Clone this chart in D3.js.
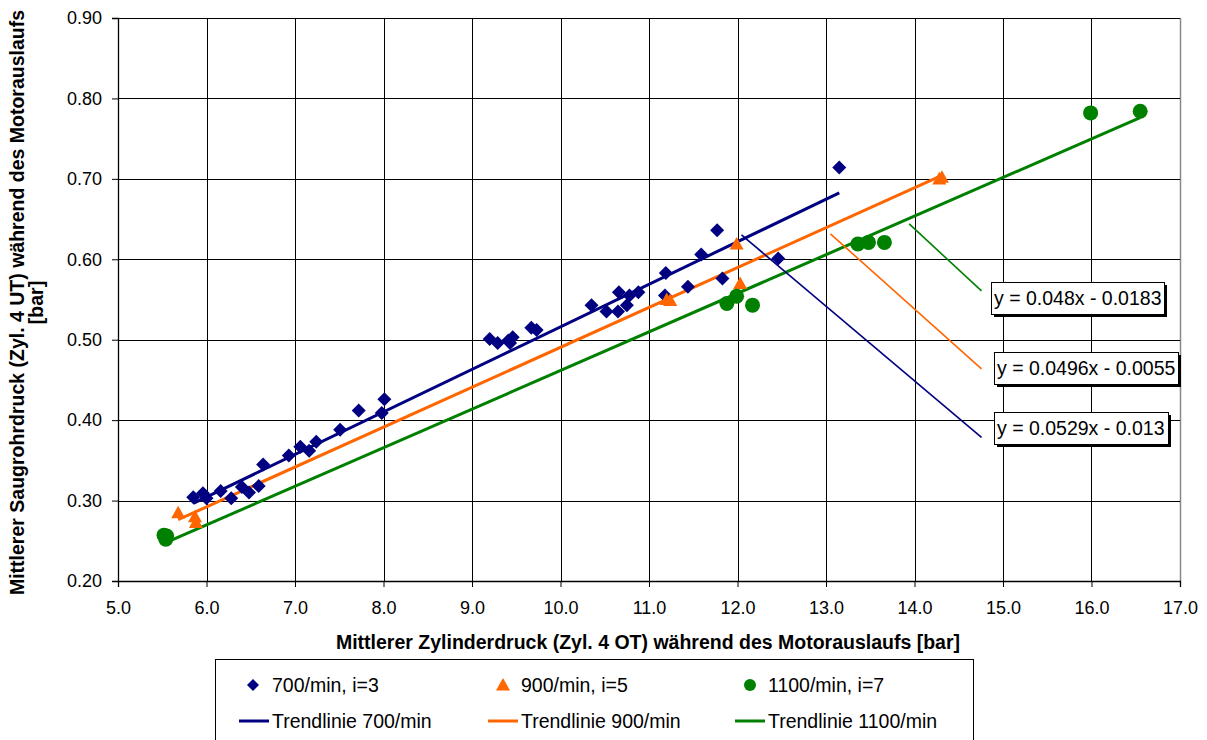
<!DOCTYPE html>
<html>
<head>
<meta charset="utf-8">
<script src="https://cdn.jsdelivr.net/npm/d3@7"></script>
<style>
  html, body { margin: 0; padding: 0; background: #fff; }
  svg { display: block; font-family: "Liberation Sans", Arial, sans-serif; }
</style>
</head>
<body>
<svg id="chart" width="1207" height="740"></svg>
<script>
// ---- data ----
const seriesNames = ["700/min, i=3", "900/min, i=5", "1100/min, i=7"];
const trendNames = ["Trendlinie 700/min", "Trendlinie 900/min", "Trendlinie 1100/min"];

const x700 = [5.85,5.96,6.00,6.16,6.28,6.40,6.48,6.59,6.64,6.93,7.06,7.16,7.24,7.51,7.72,7.98,8.01,
              9.20,9.29,9.41,9.43,9.46,9.67,9.73,10.35,10.52,10.65,10.66,10.75,10.78,10.88,11.18,11.19,
              11.44,11.59,11.77,11.83,12.46,13.15];
const y700 = [0.304,0.309,0.303,0.312,0.303,0.317,0.310,0.318,0.345,0.356,0.367,0.362,0.373,0.388,0.412,0.409,0.426,
              0.501,0.496,0.499,0.496,0.503,0.515,0.512,0.543,0.535,0.535,0.559,0.543,0.555,0.559,0.555,0.583,
              0.566,0.606,0.636,0.576,0.601,0.714];

const x900 = [5.68,5.87,5.88,11.20,11.24,11.99,12.03,14.28,14.31];
const y900 = [0.285,0.280,0.273,0.550,0.549,0.619,0.570,0.700,0.702];

const x1100 = [5.52,5.55,5.54,11.88,11.99,12.17,13.36,13.48,13.66,15.99,16.55];
const y1100 = [0.257,0.256,0.252,0.545,0.554,0.543,0.619,0.621,0.621,0.782,0.784];

const slopes = [0.0529, 0.0496, 0.048];
const intercepts = [-0.013, -0.0055, -0.0183];
const equationLabels = ["y = 0.0529x - 0.013", "y = 0.0496x - 0.0055", "y = 0.048x - 0.0183"];

// leader lines (data coords): [x1, y1, x2, y2]
const leaders = [
  [12.045, 0.6303, 14.757, 0.3787],
  [13.05, 0.6316, 14.757, 0.4637],
  [13.94, 0.644, 14.757, 0.5607]
];

const xTicks = [5,6,7,8,9,10,11,12,13,14,15,16,17];
const yTicks = [0.2,0.3,0.4,0.5,0.6,0.7,0.8,0.9];

const xTitle = "Mittlerer Zylinderdruck (Zyl. 4 OT) während des Motorauslaufs [bar]";
const yTitle1 = "Mittlerer Saugrohrdruck (Zyl. 4 UT) während des Motorauslaufs";
const yTitle2 = "[bar]";

// ---- styling/layout ----
const colors = ["#000080", "#FF6600", "#008000"];
const L = 118, R = 1180, T = 18, B = 581;

const svg = d3.select("#chart");
const x = d3.scaleLinear().domain([5, 17]).range([L, R]);
const y = d3.scaleLinear().domain([0.2, 0.9]).range([B, T]);

// gridlines
const grid = svg.append("g");
grid.selectAll("line.v").data(xTicks.slice(1)).join("line")
  .attr("x1", d => Math.round(x(d)) + 0.5).attr("x2", d => Math.round(x(d)) + 0.5)
  .attr("y1", T).attr("y2", B)
  .attr("stroke", d => d === 17 ? "#888" : "#000").attr("stroke-width", d => d === 17 ? 1.5 : 1);
grid.selectAll("line.h").data(yTicks.slice(1)).join("line")
  .attr("x1", L).attr("x2", R)
  .attr("y1", d => Math.round(y(d)) + 0.5).attr("y2", d => Math.round(y(d)) + 0.5)
  .attr("stroke", "#000").attr("stroke-width", 1);

// axes
const fmt = d3.format(".1f");
const xAxis = svg.append("g").attr("transform", `translate(0,${B})`)
  .call(d3.axisBottom(x).tickValues(xTicks).tickFormat(fmt).tickSizeOuter(0).tickSize(6).tickPadding(14));
const yAxis = svg.append("g").attr("transform", `translate(${L},0)`)
  .call(d3.axisLeft(y).tickValues(yTicks).tickFormat(d3.format(".2f")).tickSizeOuter(0).tickSize(6).tickPadding(10));
[xAxis, yAxis].forEach(a => {
  a.select(".domain").attr("stroke", "#000").attr("stroke-width", 1.3);
  a.selectAll(".tick line").attr("stroke", "#000");
  a.selectAll(".tick text").attr("fill", "#000").style("font-size", "18px")
   .style("font-family", "'Liberation Sans', Arial, sans-serif");
});

// axis titles
svg.append("text").attr("x", (L + R) / 2 - 1).attr("y", 649).attr("text-anchor", "middle")
  .style("font-size", "19.5px").style("font-weight", "bold").text(xTitle);
svg.append("text").attr("transform", `translate(24,${(T + B) / 2 + 3}) rotate(-90)`).attr("text-anchor", "middle")
  .style("font-size", "19.5px").style("font-weight", "bold").text(yTitle1);
svg.append("text").attr("transform", `translate(43,${(T + B) / 2 + 3}) rotate(-90)`).attr("text-anchor", "middle")
  .style("font-size", "19.5px").style("font-weight", "bold").text(yTitle2);

// trend lines
const xs = [x700, x900, x1100];
const ys = [y700, y900, y1100];
const trend = svg.append("g");
xs.forEach((arr, i) => {
  const x0 = d3.min(arr), x1 = d3.max(arr);
  trend.append("line")
    .attr("x1", x(x0)).attr("y1", y(slopes[i] * x0 + intercepts[i]))
    .attr("x2", x(x1)).attr("y2", y(slopes[i] * x1 + intercepts[i]))
    .attr("stroke", colors[i]).attr("stroke-width", 3);
});

// markers
const diamond = r => `M0,${-r}L${r},0L0,${r}L${-r},0Z`;
const triangle = r => `M0,${-r}L${r},${r * 0.8}L${-r},${r * 0.8}Z`;
const markerPath = [diamond(7), triangle(7), null];
const marks = svg.append("g");
xs.forEach((arr, i) => {
  const pts = arr.map((v, j) => [v, ys[i][j]]);
  if (i === 2) {
    marks.selectAll(null).data(pts).join("circle")
      .attr("cx", d => x(d[0])).attr("cy", d => y(d[1])).attr("r", 7.5).attr("fill", colors[i]);
  } else {
    marks.selectAll(null).data(pts).join("path")
      .attr("d", markerPath[i])
      .attr("transform", d => `translate(${x(d[0])},${y(d[1])})`).attr("fill", colors[i]);
  }
});

// leader lines
svg.append("g").selectAll("line").data(leaders).join("line")
  .attr("x1", d => x(d[0])).attr("y1", d => y(d[1]))
  .attr("x2", d => x(d[2])).attr("y2", d => y(d[3]))
  .attr("stroke", (d, i) => colors[i]).attr("stroke-width", 1.6);

// equation boxes (blue, orange, green)
const boxes = [
  {x: 994, y: 412, w: 174, h: 32},
  {x: 994, y: 352, w: 184, h: 32},
  {x: 991, y: 282, w: 173, h: 32}
];
const eq = svg.append("g");
boxes.forEach((b, i) => {
  eq.append("rect").attr("x", b.x + 3).attr("y", b.y + 3).attr("width", b.w).attr("height", b.h).attr("fill", "#000");
  eq.append("rect").attr("x", b.x + 0.5).attr("y", b.y + 0.5).attr("width", b.w).attr("height", b.h)
    .attr("fill", "#fff").attr("stroke", "#000").attr("stroke-width", 1);
  eq.append("text").attr("x", b.x + 3).attr("y", b.y + b.h / 2 + 7)
    .style("font-size", "19.5px").text(equationLabels[i]);
});

// legend
const lg = svg.append("g");
lg.append("rect").attr("x", 215.5).attr("y", 659.5).attr("width", 758).attr("height", 100)
  .attr("fill", "#fff").attr("stroke", "#000").attr("stroke-width", 1);
const colX = [253, 503, 750];
const textX = [272, 521, 768];
seriesNames.forEach((n, i) => {
  const cy = 685;
  if (i === 2) lg.append("circle").attr("cx", colX[i]).attr("cy", cy).attr("r", 6).attr("fill", colors[i]);
  else lg.append("path").attr("d", i === 0 ? diamond(6) : triangle(7))
    .attr("transform", `translate(${colX[i]},${cy})`).attr("fill", colors[i]);
  lg.append("text").attr("x", textX[i]).attr("y", cy + 7).style("font-size", "19.5px").text(n);
});
trendNames.forEach((n, i) => {
  const cy = 721;
  lg.append("line").attr("x1", textX[i] - 33).attr("x2", textX[i] - 3).attr("y1", cy).attr("y2", cy)
    .attr("stroke", colors[i]).attr("stroke-width", 3);
  lg.append("text").attr("x", textX[i]).attr("y", cy + 7).style("font-size", "19.5px").text(n);
});
</script>
</body>
</html>
